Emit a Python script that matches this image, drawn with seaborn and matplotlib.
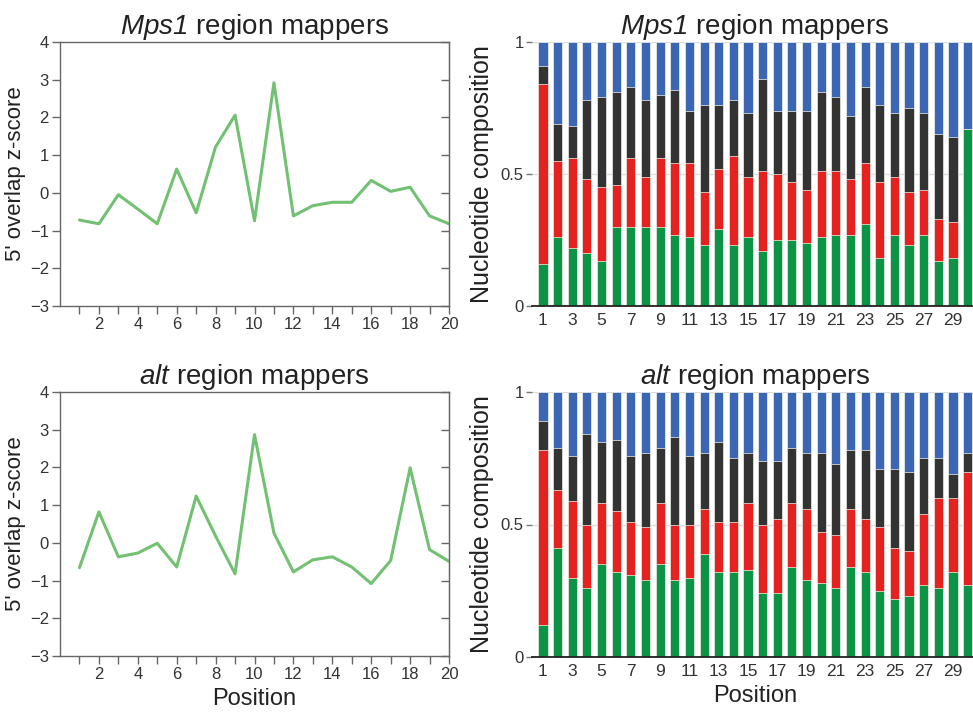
import numpy as np
import pandas as pd
import matplotlib
matplotlib.use("Agg")
import matplotlib.pyplot as plt
import seaborn as sns

# valores
zpos = list(range(1, 21))
z_mps1 = [-0.72, -0.82, -0.05, -0.43, -0.82, 0.63, -0.53, 1.22, 2.06, -0.74,
          2.92, -0.61, -0.34, -0.25, -0.25, 0.33, 0.04, 0.15, -0.61, -0.82]
z_alt = [-0.66, 0.82, -0.37, -0.27, -0.01, -0.64, 1.24, 0.18, -0.82, 2.87,
         0.26, -0.77, -0.45, -0.37, -0.64, -1.08, -0.47, 1.99, -0.18, -0.49]

npos = list(range(1, 31))
# fracciones por nucleotido (verde, rojo, negro, azul) - Mps1
g_mps1 = [.16, .26, .22, .20, .17, .30, .30, .30, .30, .27, .26, .23, .29, .23, .26,
          .21, .25, .25, .24, .26, .27, .27, .31, .18, .27, .23, .27, .17, .18, .67]
r_mps1 = [.68, .29, .34, .28, .28, .16, .26, .19, .26, .27, .28, .20, .23, .34, .23,
          .30, .25, .22, .20, .25, .24, .21, .23, .29, .22, .20, .17, .16, .14, 0]
k_mps1 = [.07, .14, .12, .30, .34, .35, .27, .29, .24, .28, .20, .33, .24, .21, .24,
          .35, .24, .27, .30, .30, .28, .24, .29, .29, .24, .32, .29, .32, .32, 0]
b_mps1 = [.09, .31, .32, .22, .21, .19, .17, .22, .20, .18, .26, .24, .24, .22, .27,
          .14, .26, .26, .26, .19, .21, .28, .17, .24, .27, .25, .27, .35, .36, .33]
# alt
g_alt = [.12, .41, .30, .26, .35, .32, .31, .29, .35, .29, .30, .39, .32, .32, .33,
         .24, .24, .34, .29, .28, .26, .34, .32, .25, .22, .23, .27, .26, .32, .27]
r_alt = [.66, .22, .29, .24, .23, .23, .20, .20, .23, .21, .20, .17, .19, .19, .25,
         .26, .28, .24, .27, .19, .20, .22, .20, .24, .19, .17, .27, .34, .28, .43]
k_alt = [.11, .16, .17, .34, .23, .27, .25, .28, .21, .33, .26, .21, .30, .24, .19,
         .24, .22, .21, .21, .30, .27, .22, .26, .22, .30, .30, .21, .15, .09, .07]
b_alt = [.11, .21, .24, .16, .19, .18, .24, .23, .21, .17, .24, .23, .19, .25, .23,
         .26, .26, .21, .23, .23, .27, .22, .22, .29, .29, .30, .25, .25, .31, .23]

GREEN, RED, BLACK, BLUE = "#0b9446", "#e5221f", "#333333", "#3b66b4"
LINE_GREEN = "#72c172"
TXT = "#222222"

sns.set_style("white")
plt.rcParams["font.family"] = ["Liberation Sans", "DejaVu Sans"]
# el rm de mathtext se usa solo para los nombres en cursiva de los titulos
plt.rcParams["mathtext.fontset"] = "custom"
plt.rcParams["mathtext.rm"] = "Liberation Sans:italic"
plt.rcParams["mathtext.it"] = "Liberation Sans:italic"

W, H = 973, 717
fig = plt.figure(figsize=(W / 100, H / 100), dpi=100)


def px_axes(left, top, right, bottom):
    return fig.add_axes([left / W, 1 - bottom / H, (right - left) / W, (bottom - top) / H])


def line_panel(ax, vals, title, xlabel=None):
    sns.lineplot(x=zpos, y=vals, color=LINE_GREEN, linewidth=2.2, ax=ax)
    ax.set_xlim(0, 20)
    ax.set_ylim(-3, 4)
    ax.set_xticks(zpos)
    ax.set_xticklabels([str(p) if p % 2 == 0 else "" for p in zpos])
    ax.set_yticks(range(-3, 5))
    ax.set_yticklabels([str(v).replace("-", "\u2212") for v in range(-3, 5)])
    for s in ax.spines.values():
        s.set_color("#666666")
        s.set_linewidth(1.0)
    ax.tick_params(axis="both", direction="out", length=6, width=1, color="#666666",
                   labelsize=12, labelcolor="#333333", pad=2)
    ax.tick_params(axis="x", bottom=True)
    ax.tick_params(axis="y", left=True)
    sec = ax.secondary_yaxis("right")
    sec.set_yticks(range(-3, 5))
    sec.tick_params(direction="in", length=6, width=1, color="#666666", labelright=False)
    sec.spines["right"].set_color("#666666")
    ax.set_ylabel("5' overlap z-score", fontsize=16, color=TXT, labelpad=3)
    ax.set_xlabel(xlabel or "", fontsize=17, color=TXT, labelpad=4)
    ax.set_title(title, fontsize=20, color=TXT, pad=6)


def bar_panel(ax, g, r, k, b, title, xlabel=None):
    df = pd.DataFrame({"pos": npos, "g": g, "r": r, "k": k, "b": b})
    tops = df[["g", "r", "k", "b"]].cumsum(axis=1)
    tops["b"] = 1.0
    for col, c in [("b", BLUE), ("k", BLACK), ("r", RED), ("g", GREEN)]:
        sns.barplot(x=df["pos"], y=tops[col], color=c, native_scale=True, width=0.62,
                    saturation=1, edgecolor="#f4f4ec", linewidth=0.5, errorbar=None, ax=ax)
    ax.set_xlim(0.25, 30.71)
    ax.set_ylim(0, 1)
    ax.set_axisbelow(True)
    ax.yaxis.grid(True, color="#dddddd", linewidth=1)
    ax.set_yticks([0, 0.5, 1])
    ax.set_yticklabels(["0", "0.5", "1"])
    ax.set_xticks(npos[::2])
    ax.set_xticklabels([str(p) for p in npos[::2]])
    for side in ["top", "right", "left"]:
        ax.spines[side].set_visible(False)
    ax.spines["bottom"].set_color("#222222")
    ax.spines["bottom"].set_linewidth(1.3)
    ax.tick_params(axis="y", left=True, length=4, width=1, color="#777777",
                   labelsize=12, labelcolor="#333333", pad=2)
    ax.tick_params(axis="x", bottom=False, length=0, labelsize=12.5, labelcolor="#333333", pad=5)
    ax.set_ylabel("Nucleotide composition", fontsize=18, color=TXT, labelpad=5)
    ax.set_xlabel(xlabel or "", fontsize=17, color=TXT, labelpad=4)
    ax.set_title(title, fontsize=20, color=TXT, pad=6)


line_panel(px_axes(60, 42, 449, 306), z_mps1, r"$\mathrm{Mps1}$ region mappers")
line_panel(px_axes(60, 392, 449, 656), z_alt, r"$\mathrm{alt}$ region mappers", "Position")
bar_panel(px_axes(532, 42, 978, 306), g_mps1, r_mps1, k_mps1, b_mps1,
          r"$\mathrm{Mps1}$ region mappers")
bar_panel(px_axes(532, 392, 978, 657), g_alt, r_alt, k_alt, b_alt,
          r"$\mathrm{alt}$ region mappers", "Position")

fig.savefig("out.png", dpi=100)
